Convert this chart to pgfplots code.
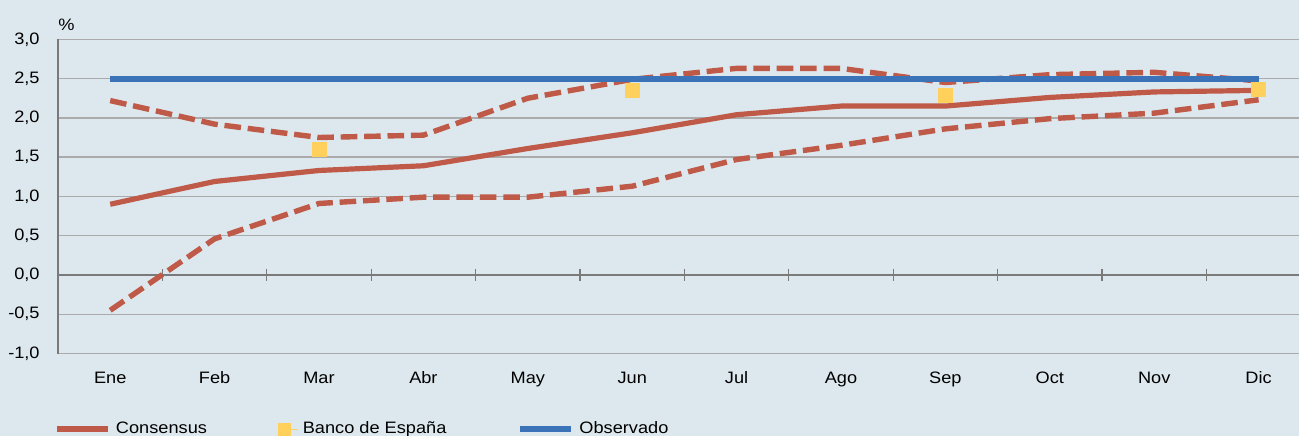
\documentclass[border=0pt]{standalone}
\usepackage{fontspec}
\setmainfont{Liberation Sans}[FakeStretch=1.1]
\usepackage{pgfplots}
\pgfplotsset{compat=1.18}
\definecolor{bgc}{HTML}{DDE8EE}
\definecolor{redc}{HTML}{BF5A48}
\definecolor{bluec}{HTML}{3B73B9}
\definecolor{yelc}{HTML}{FFD15C}
\definecolor{gridc}{HTML}{ABABAB}
\definecolor{axc}{HTML}{7A7A7A}
\begin{document}
\begin{tikzpicture}
\clip (0,0) rectangle (649.5bp,-218bp);
\fill[bgc] (0,0) rectangle (649.5bp,-218bp);
\begin{axis}[
  at={(29bp,-176.75bp)}, anchor=south west,
  scale only axis, width=626.4bp, height=157.1bp,
  xmin=-0.5, xmax=11.5, ymin=-1, ymax=3,
  axis x line*=bottom, axis y line*=left,
  x axis line style={draw=none},
  y axis line style={draw=axc, line width=1bp},
  xtick={0,...,11},
  xticklabels={Ene,Feb,Mar,Abr,May,Jun,Jul,Ago,Sep,Oct,Nov,Dic},
  ytick={-1,-0.5,0,0.5,1,1.5,2,2.5,3},
  yticklabels={{-1,0},{-0,5},{0,0},{0,5},{1,0},{1,5},{2,0},{2,5},{3,0}},
  major tick length=0pt,
  ymajorgrids, grid style={draw=gridc, line width=0.7bp},
  tick label style={font=\fontsize{8.3}{10}\selectfont},
  yticklabel style={anchor=east, inner sep=0pt, xshift=-9bp},
  xticklabel style={anchor=base, inner sep=0pt, yshift=-14.75bp},
  ylabel={\%},
  every axis y label/.style={at={(axis description cs:0,1)}, anchor=base west, yshift=4.65bp, inner sep=0pt, font=\fontsize{8.3}{10}\selectfont},
  legend columns=3, legend cell align=left,
  legend style={at={(axis description cs:-0.0032,-0.240)}, anchor=west, draw=none, fill=none,
    inner sep=0pt, outer sep=0pt,
    font=\fontsize{8.3}{10}\selectfont, nodes={inner sep=0pt},
    /tikz/every odd column/.append style={column sep=2.5bp},
    /tikz/every even column/.append style={column sep=35.5bp}},
]
\draw[axc, line width=1bp] (axis cs:-0.5,0) -- (axis cs:11.5,0);
\pgfplotsinvokeforeach{0.5,1.5,2.5,3.5,4.5,5.5,6.5,7.5,8.5,9.5,10.5}{
  \draw[axc, line width=0.6bp] ([yshift=3bp]axis cs:#1,0) -- ([yshift=-3bp]axis cs:#1,0);
}
\addplot[redc, line width=2.6bp, line join=round,
  legend image code/.code={\draw[redc, line width=3bp] (0bp,0bp) -- (25.5bp,0bp);}]
  coordinates {(0,0.90)(1,1.19)(2,1.33)(3,1.39)(4,1.61)(5,1.81)(6,2.04)(7,2.15)(8,2.15)(9,2.26)(10,2.33)(11,2.35)};
\addlegendentry{Consensus}
\addplot[redc, line width=2.7bp, dash pattern=on 8.3bp off 3.4bp, forget plot]
  coordinates {(0,2.22)(1,1.92)(2,1.75)(3,1.78)(4,2.25)(5,2.49)(6,2.63)(7,2.63)(8,2.45)(9,2.55)(10,2.58)(11,2.47)};
\addplot[redc, line width=2.7bp, dash pattern=on 8.3bp off 3.4bp, forget plot]
  coordinates {(0,-0.45)(1,0.46)(2,0.91)(3,0.99)(4,0.99)(5,1.13)(6,1.47)(7,1.65)(8,1.86)(9,1.99)(10,2.06)(11,2.23)};
\addplot[bluec, line width=3bp, forget plot]
  coordinates {(0,2.5)(1,2.5)(2,2.5)(3,2.5)(4,2.5)(5,2.5)(6,2.5)(7,2.5)(8,2.5)(9,2.5)(10,2.5)(11,2.5)};
\addplot[yelc, only marks, mark=square*, mark size=3.5bp, mark options={draw=yelc, fill=yelc, line width=0pt},
  legend image code/.code={\fill[yelc] (0bp,-3bp) rectangle (6bp,3bp); \path (0bp,0bp) -- (9.5bp,0bp);}]
  coordinates {(2,1.60)(5,2.35)(8,2.29)(11,2.36)};
\addlegendentry{Banco de España}
\addplot[bluec, line width=3bp, draw=none,
  legend image code/.code={\draw[bluec, line width=3bp] (0bp,0bp) -- (25.5bp,0bp);}]
  coordinates {(0,2.5)};
\addlegendentry{Observado}
\end{axis}
\end{tikzpicture}
\end{document}
